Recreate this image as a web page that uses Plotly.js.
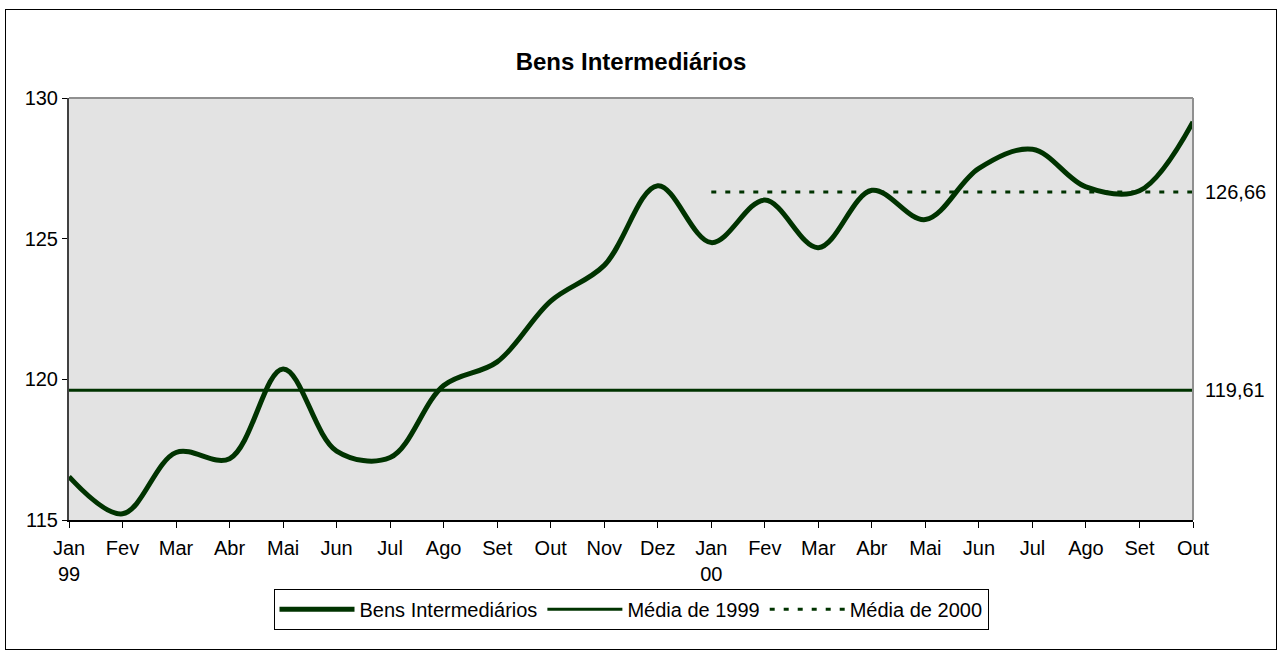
<!DOCTYPE html>
<html>
<head>
<meta charset="utf-8">
<script src="https://cdn.plot.ly/plotly-3.0.1.min.js"></script>
<style>
  html, body { margin: 0; padding: 0; background: #fff; }
  #chart { width: 1281px; height: 655px; }
  #frame { position: absolute; left: 5px; top: 9px; width: 1270px; height: 639px; border: 1px solid #000; pointer-events: none; }
</style>
</head>
<body>
<div id="chart"></div>
<div id="frame"></div>
<script>
// Month tick labels (Jan 1999 .. Out 2000)
const monthLabels = ["Jan<br>99","Fev","Mar","Abr","Mai","Jun","Jul","Ago","Set","Out","Nov","Dez",
                     "Jan<br>00","Fev","Mar","Abr","Mai","Jun","Jul","Ago","Set","Out"];
const monthIndex = [0,1,2,3,4,5,6,7,8,9,10,11,12,13,14,15,16,17,18,19,20,21];

// Bens Intermediários index values
const bensIntermediarios = [116.54,115.22,117.40,117.18,120.37,117.45,117.22,119.78,120.62,122.78,124.05,126.88,
                            124.86,126.37,124.68,126.72,125.68,127.50,128.18,126.84,126.70,129.15];

// Averages
const media1999Value = 119.61;
const media2000Value = 126.66;
const media1999 = [119.61,119.61,119.61,119.61,119.61,119.61,119.61,119.61,119.61,119.61,119.61,
                   119.61,119.61,119.61,119.61,119.61,119.61,119.61,119.61,119.61,119.61,119.61];
const media2000Index = [12,13,14,15,16,17,18,19,20,21];
const media2000 = [126.66,126.66,126.66,126.66,126.66,126.66,126.66,126.66,126.66,126.66];

const yTicks = [115,120,125,130];

const green = '#003300';
const fontFamily = '"Liberation Sans", Arial, sans-serif';

const traces = [
  {
    x: monthIndex, y: bensIntermediarios, type: 'scatter', mode: 'lines',
    name: 'Bens Intermediários',
    line: {color: green, width: 5, shape: 'spline', smoothing: 1}
  },
  {
    x: monthIndex, y: media1999, type: 'scatter', mode: 'lines',
    name: 'Média de 1999',
    line: {color: green, width: 3}
  },
  {
    x: media2000Index, y: media2000, type: 'scatter', mode: 'lines',
    name: 'Média de 2000',
    line: {color: green, width: 3, dash: '5px,9px'}
  }
];

const layout = {
  width: 1281, height: 655,
  margin: {l: 69, r: 88, t: 98, b: 135},
  paper_bgcolor: '#ffffff',
  plot_bgcolor: '#e3e3e3',
  font: {family: fontFamily, size: 20, color: '#000'},
  title: {
    text: '<b>Bens Intermediários</b>',
    font: {family: fontFamily, size: 24, color: '#000'},
    x: 0.5, xanchor: 'center', xref: 'paper',
    y: 1 - 62/655, yref: 'container', yanchor: 'middle'
  },
  xaxis: {
    range: [0, 21],
    tickmode: 'array', tickvals: monthIndex, ticktext: monthLabels,
    ticks: 'outside', ticklen: 6, tickwidth: 1, tickcolor: '#000',
    ticklabelstandoff: 3,
    showline: true, linecolor: '#000', linewidth: 2,
    showgrid: false, zeroline: false, fixedrange: true,
    tickangle: 0
  },
  yaxis: {
    range: [115, 130],
    tickmode: 'array', tickvals: yTicks, ticktext: yTicks.map(String),
    ticks: 'outside', ticklen: 5, tickwidth: 1, tickcolor: '#000',
    showline: true, linecolor: '#404040', linewidth: 2,
    showgrid: false, zeroline: false, fixedrange: true
  },
  showlegend: true,
  legend: {
    orientation: 'h',
    x: 0.5, xanchor: 'center',
    y: -0.163, yanchor: 'top',
    bgcolor: '#ffffff', bordercolor: '#000', borderwidth: 1,
    font: {family: fontFamily, size: 20, color: '#000'},
    itemwidth: 75,
    tracegroupgap: 0
  },
  shapes: [
    {type: 'line', xref: 'paper', yref: 'paper', x0: 0, x1: 1, y0: 1, y1: 1, line: {color: '#909090', width: 2}},
    {type: 'line', xref: 'paper', yref: 'paper', x0: 1, x1: 1, y0: 0, y1: 1, line: {color: '#909090', width: 2}}
  ],
  annotations: [
    {xref: 'paper', yref: 'y', x: 1, y: media2000Value, xanchor: 'left', yanchor: 'middle', xshift: 10,
     text: media2000Value.toFixed(2).replace('.', ','), showarrow: false, font: {family: fontFamily, size: 20, color: '#000'}},
    {xref: 'paper', yref: 'y', x: 1, y: media1999Value, xanchor: 'left', yanchor: 'middle', xshift: 10,
     text: media1999Value.toFixed(2).replace('.', ','), showarrow: false, font: {family: fontFamily, size: 20, color: '#000'}}
  ]
};

Plotly.newPlot('chart', traces, layout, {displayModeBar: false, staticPlot: true});
</script>
</body>
</html>
